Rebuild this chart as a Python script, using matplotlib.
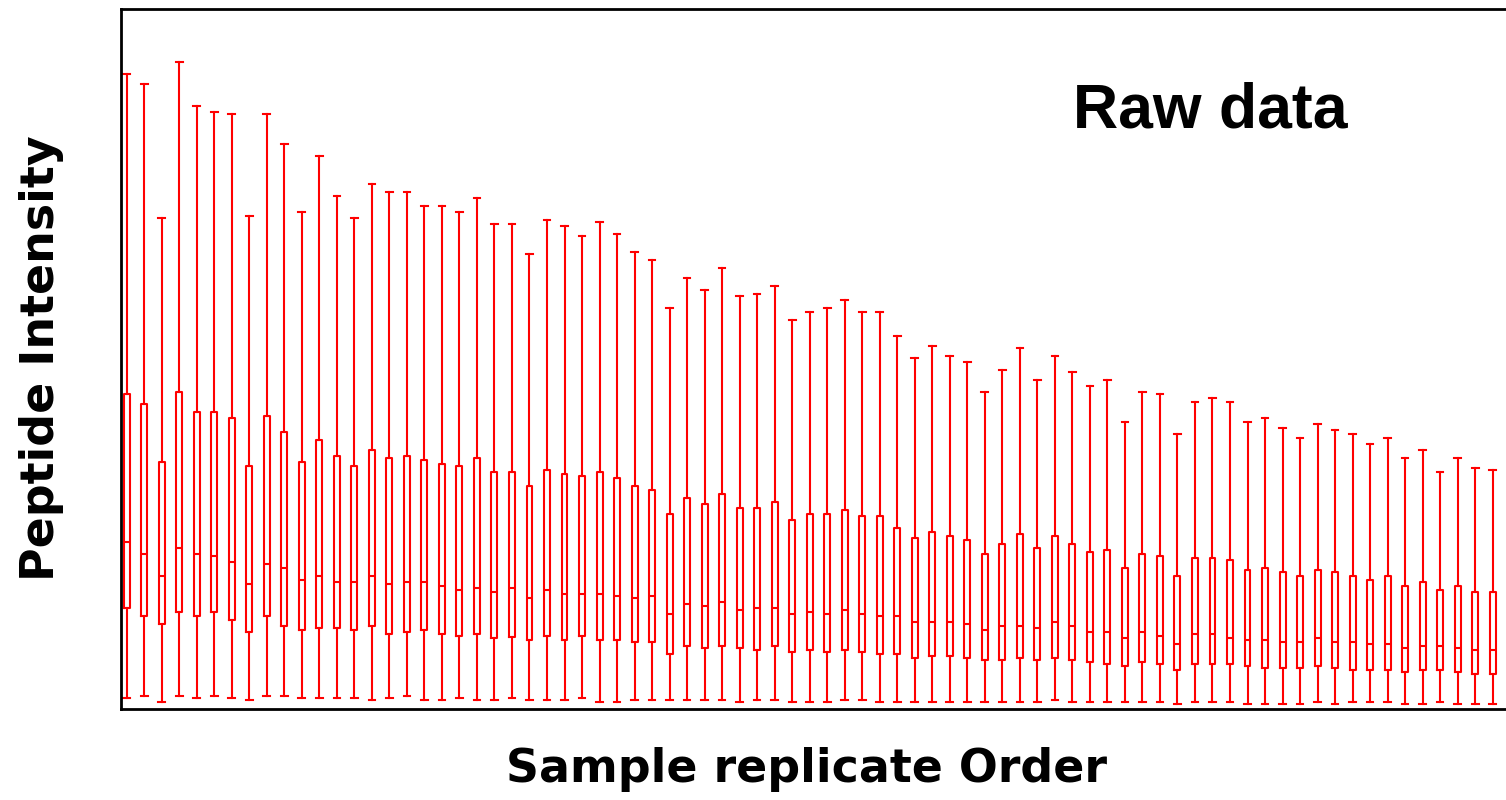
import matplotlib
matplotlib.use("Agg")
import matplotlib.pyplot as plt

# per-replicate peptide intensity summaries (arbitrary intensity units)
whisker_hi = [635, 625, 491, 647, 603, 597, 595, 493, 595, 565, 497, 553, 513, 491, 525, 517,
              517, 503, 503, 497, 511, 485, 485, 455, 489, 483, 473, 487, 475, 457, 449, 401,
              431, 419, 441, 413, 415, 423, 389, 397, 401, 409, 397, 397, 373, 351, 363, 353,
              347, 317, 339, 361, 329, 353, 337, 323, 329, 287, 317, 315, 275, 307, 311, 307,
              287, 291, 281, 271, 285, 279, 275, 265, 271, 251, 259, 237, 251, 241, 239]
q3 = [315, 305, 247, 317, 297, 297, 291, 243, 293, 277, 247, 269, 253, 243, 259, 251,
      253, 249, 245, 243, 251, 237, 237, 223, 239, 235, 233, 237, 231, 223, 219, 195,
      211, 205, 215, 201, 201, 207, 189, 195, 195, 199, 193, 193, 181, 171, 177, 173,
      169, 155, 165, 175, 161, 173, 165, 157, 159, 141, 155, 153, 133, 151, 151, 149,
      139, 141, 137, 133, 139, 137, 133, 129, 133, 123, 127, 119, 123, 117, 117]
median = [167, 155, 133, 161, 155, 153, 147, 125, 145, 141, 129, 133, 127, 127, 133, 125,
          127, 127, 123, 119, 121, 117, 121, 111, 119, 115, 115, 115, 113, 111, 113, 95,
          105, 103, 107, 99, 101, 101, 95, 97, 95, 99, 95, 93, 93, 87, 87, 87,
          85, 79, 83, 83, 81, 87, 83, 77, 77, 71, 77, 73, 65, 75, 75, 71,
          69, 69, 67, 67, 71, 67, 67, 65, 65, 61, 63, 63, 61, 59, 59]
q1 = [101, 93, 85, 97, 93, 97, 89, 77, 93, 83, 79, 81, 81, 79, 83, 75,
      77, 79, 75, 73, 75, 71, 72, 69, 73, 69, 73, 69, 69, 67, 67, 55,
      63, 61, 63, 61, 59, 63, 57, 59, 57, 59, 57, 55, 55, 51, 53, 53,
      51, 49, 49, 51, 49, 51, 49, 47, 45, 43, 47, 45, 39, 45, 45, 45,
      43, 41, 41, 41, 43, 41, 39, 39, 39, 37, 39, 39, 37, 35, 35]
whisker_lo = [11, 13, 7, 13, 11, 13, 11, 9, 13, 13, 11, 11, 11, 11, 9, 11,
              13, 9, 9, 11, 9, 9, 11, 9, 9, 9, 11, 7, 7, 9, 9, 9,
              9, 9, 9, 7, 9, 9, 7, 7, 7, 9, 9, 7, 7, 7, 7, 7,
              7, 7, 7, 7, 7, 9, 7, 7, 7, 7, 7, 7, 5, 7, 7, 7,
              5, 5, 5, 5, 7, 5, 7, 7, 7, 5, 5, 7, 5, 5, 5]

stats = []
for lo, a, m, b, hi in zip(whisker_lo, q1, median, q3, whisker_hi):
    stats.append({"whislo": lo, "q1": a, "med": m, "q3": b, "whishi": hi, "fliers": []})

n = len(stats)
positions = list(range(1, n + 1))

fig = plt.figure(figsize=(15.06, 8), dpi=100)
ax = fig.add_axes([121 / 1506, 91 / 800, 1 - 121 / 1506, 700 / 800])

red = dict(color="red", linewidth=1.5)
ax.bxp(stats, positions=positions, widths=0.34, capwidths=0.38, showfliers=False,
       boxprops=red, whiskerprops=red, capprops=red, medianprops=red)

ax.set_xlim(0.675, n + 0.76)
ax.set_ylim(0, 700)
ax.set_xticks([])
ax.set_yticks([])
for side in ["left", "bottom", "top"]:
    ax.spines[side].set_linewidth(2)
ax.spines["right"].set_visible(False)

fig.text(806 / 1506, 1 - 769 / 800, "Sample replicate Order", ha="center", va="center",
         fontsize=33, fontweight="bold", family="DejaVu Sans")
fig.text(42 / 1506, 1 - 358 / 800, "Peptide Intensity", ha="center", va="center",
         rotation=90, fontsize=33, fontweight="bold", family="DejaVu Sans")
fig.text(1073 / 1506, 1 - 127 / 800, "Raw data", ha="left", va="baseline",
         fontsize=45, fontweight="bold", family="Liberation Sans")

fig.savefig("out.png", dpi=100)
